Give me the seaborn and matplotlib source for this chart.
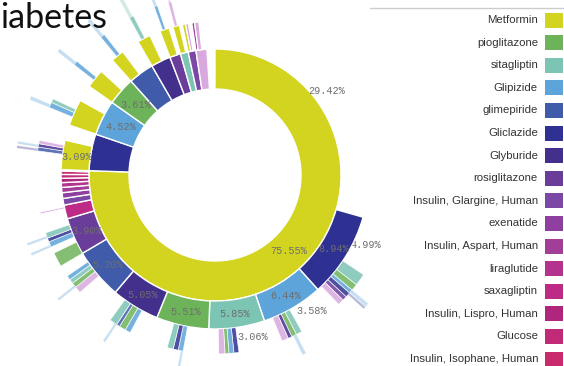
import numpy as np
import matplotlib
matplotlib.use("Agg")
import matplotlib.pyplot as plt
import seaborn as sns

sns.set_theme(style="white")
plt.rcParams["font.family"] = ["Liberation Sans", "DejaVu Sans"]

# ---------------- data ----------------
drugs = ["Metformin", "pioglitazone", "sitagliptin", "Glipizide", "glimepiride",
         "Gliclazide", "Glyburide", "rosiglitazone", "Insulin, Glargine, Human",
         "exenatide", "Insulin, Aspart, Human", "liraglutide", "saxagliptin",
         "Insulin, Lispro, Human", "Glucose", "Insulin, Isophane, Human"]
drug_colors = ["#d3d41f", "#6db35a", "#7cc4b4", "#5ca4d9", "#3f5ba9",
               "#2e3192", "#432f8c", "#6a3d9a", "#7b48a6",
               "#8f3f9f", "#a23d98", "#b3338f", "#bd2b86",
               "#b0267c", "#c12a76", "#c9296d"]
other_color = "#d8a8de"

# level 1: (drug, share %, label)
level1 = [("Metformin", 75.55, "75.55%"), ("Gliclazide", 4.70, ""),
          ("Glipizide", 4.52, "4.52%"), ("pioglitazone", 3.61, "3.61%"),
          ("glimepiride", 3.28, ""), ("Glyburide", 2.52, ""),
          ("rosiglitazone", 1.40, ""), ("sitagliptin", 1.00, ""),
          ("Insulin, Glargine, Human", 1.00, ""), ("Other", 1.40, "")]

# level 2: (parent index in level1, drug or None for "alone", share %, label)
level2 = [(0, None, 29.42, "29.42%"), (0, "Gliclazide", 8.94, "8.94%"),
          (0, "Glipizide", 6.44, "6.44%"), (0, "sitagliptin", 5.85, "5.85%"),
          (0, "pioglitazone", 5.51, "5.51%"), (0, "Glyburide", 5.05, "5.05%"),
          (0, "glimepiride", 5.30, "5.30%"), (0, "rosiglitazone", 3.90, "3.90%"),
          (0, "saxagliptin", 1.45, ""), (0, "Insulin, Glargine, Human", 0.70, ""),
          (0, "exenatide", 0.60, ""), (0, "Insulin, Aspart, Human", 0.55, ""),
          (0, "liraglutide", 0.50, ""), (0, "Insulin, Lispro, Human", 0.45, ""),
          (0, "Glucose", 0.40, ""), (0, "Insulin, Isophane, Human", 0.35, ""),
          (0, "Other", 0.14, ""),
          (1, "Metformin", 3.09, "3.09%"), (2, "Metformin", 2.80, ""),
          (3, "Metformin", 2.00, ""), (4, "Metformin", 1.40, ""),
          (5, "Metformin", 1.40, ""), (6, "Metformin", 1.00, ""),
          (7, "Metformin", 0.70, ""),
          (8, "Metformin", 0.35, ""), (8, "Other", 0.30, ""),
          (9, "Insulin, Aspart, Human", 0.30, ""), (9, "Other", 0.45, "")]

# level 3: (parent index in level2, drug or None, share %, label)
level3 = [(1, None, 4.99, "4.99%"), (1, "sitagliptin", 1.10, ""), (1, "pioglitazone", 0.60, ""),
          (1, "Glipizide", 0.35, ""), (1, "Gliclazide", 0.45, ""), (1, "rosiglitazone", 0.40, ""),
          (1, "Other", 0.55, ""),
          (2, None, 3.58, "3.58%"), (2, "sitagliptin", 0.55, ""), (2, "pioglitazone", 0.45, ""),
          (2, "Glyburide", 0.35, ""), (2, "Other", 0.60, ""),
          (3, None, 3.06, "3.06%"), (3, "Gliclazide", 0.45, ""), (3, "Glipizide", 0.45, ""),
          (3, "pioglitazone", 0.35, ""), (3, "Other", 0.55, ""),
          (4, None, 2.20, ""), (4, "Glipizide", 0.45, ""), (4, "Gliclazide", 0.45, ""),
          (4, "sitagliptin", 0.55, ""),
          (5, None, 1.70, ""), (5, "Glipizide", 0.50, ""), (5, "pioglitazone", 0.60, ""),
          (5, "glimepiride", 0.30, ""), (5, "sitagliptin", 0.70, ""),
          (6, None, 2.40, ""), (6, "Other", 0.60, ""), (6, "pioglitazone", 0.45, ""),
          (6, "sitagliptin", 0.40, ""), (6, "Glipizide", 0.40, ""),
          (7, "pioglitazone", 1.30, ""), (7, None, 0.60, ""), (7, "Glipizide", 0.50, ""),
          (7, "Gliclazide", 0.35, ""), (7, "sitagliptin", 0.50, ""),
          (8, None, 1.10, ""), (8, "Other", 0.15, ""),
          (17, None, 1.60, ""), (17, "glimepiride", 0.35, ""), (17, "Glyburide", 0.30, ""),
          (17, "Other", 0.30, ""),
          (18, None, 0.90, ""), (18, "Glipizide", 0.50, ""), (18, "sitagliptin", 0.35, ""),
          (19, None, 0.80, ""), (19, "Glipizide", 0.40, ""),
          (20, None, 0.60, ""), (20, "Glipizide", 0.40, ""),
          (21, None, 0.40, ""), (21, "sitagliptin", 0.40, ""),
          (22, None, 0.30, ""), (22, "Glipizide", 0.30, ""),
          (23, None, 0.20, ""), (23, "Other", 0.30, "")]

# level 4: (parent index in level3, drug, share %)
level4 = [(3, "Glipizide", 0.30), (4, "Gliclazide", 0.20), (9, "Glipizide", 0.30),
          (18, "Glipizide", 0.20), (25, "Glipizide", 0.20), (28, "Glipizide", 0.20),
          (33, "Glipizide", 0.20), (35, "Glipizide", 0.20), (39, "Glyburide", 0.20),
          (40, "Glipizide", 0.20), (43, "Glipizide", 0.30), (46, "Glipizide", 0.30),
          (48, "Glipizide", 0.30), (50, "sitagliptin", 0.30), (52, "Glipizide", 0.25),
          (54, "Other", 0.20)]

legend_names = drugs

# ---------------- drawing ----------------
palette = dict(zip(drugs, sns.color_palette(drug_colors)))
palette["Other"] = other_color

W, H = 564, 366
fig = plt.figure(figsize=(W / 100, H / 100), dpi=100)
fig.patch.set_facecolor("white")

cx, cy, R = 215, 175, 200
ax = fig.add_axes([(cx - R) / W, (H - cy - R) / H, 2 * R / W, 2 * R / H], projection="polar")
ax.set_theta_zero_location("N")
ax.set_theta_direction(-1)
ax.set_ylim(0, R)
ax.set_axis_off()

rings = [(86, 126), (126, 154), (154, 179), (179, 201)]
to_rad = lambda v: v / 100.0 * 2 * np.pi


def place(items, parent_starts):
    cursor = {}
    starts = []
    for it in items:
        p = it[0]
        s = cursor.get(p, parent_starts[p])
        starts.append(s)
        cursor[p] = s + to_rad(it[2])
    return starts


def draw(entries, starts, ring, alpha, lw, zw, zl):
    r0, r1 = ring
    for (drug, val, lab), s in zip(entries, starts):
        w = to_rad(val)
        if drug is not None:
            ax.bar(s, r1 - r0, width=w, bottom=r0, align="edge",
                   color=palette[drug], alpha=alpha, edgecolor="white",
                   linewidth=lw, zorder=zw)
        if lab:
            ax.text(s + w / 2, (r0 + r1) / 2, lab, ha="center", va="center",
                    fontsize=7.3, family="Liberation Mono", color="#6e6e6e",
                    zorder=zl)


# level 1
l1_starts = list(np.concatenate([[0], np.cumsum([to_rad(v) for _, v, _ in level1])[:-1]]))
draw([(d, v, l) for d, v, l in level1], l1_starts, rings[0], 1.0, 1.0, 3, 8)
# level 2
l2_starts = place(level2, l1_starts)
draw([(d, v, l) for _, d, v, l in level2], l2_starts, rings[1], 1.0, 1.0, 3, 8)
# level 3
l3_starts = place(level3, l2_starts)
draw([(d, v, l) for _, d, v, l in level3], l3_starts, rings[2], 0.85, 0.5, 3, 2)
# level 4
l4_starts = place(level4, l3_starts)
draw([(d, v, "") for _, d, v in level4], l4_starts, rings[3], 0.35, 0.3, 3, 2)

# overlay in pixel coordinates: title + legend
ov = fig.add_axes([0, 0, 1, 1])
ov.set_xlim(0, W)
ov.set_ylim(H, 0)
ov.set_axis_off()
ov.set_zorder(5)

ov.text(0, 28, "iabetes", fontsize=24.5, family=["Lato", "DejaVu Sans"],
        color="#111111", ha="left", va="baseline")

ov.plot([370, W], [8, 8], color="#cccccc", lw=1.0)
row0, step = 20, 22.6
for i, name in enumerate(legend_names):
    y = row0 + i * step
    ov.text(538, y, name, ha="right", va="center", fontsize=8.2, color="#333333")
    ov.add_patch(plt.Rectangle((545, y - 7.5), 18, 15, color=palette[name], lw=0))

fig.savefig("out.png", dpi=100, facecolor="white")
